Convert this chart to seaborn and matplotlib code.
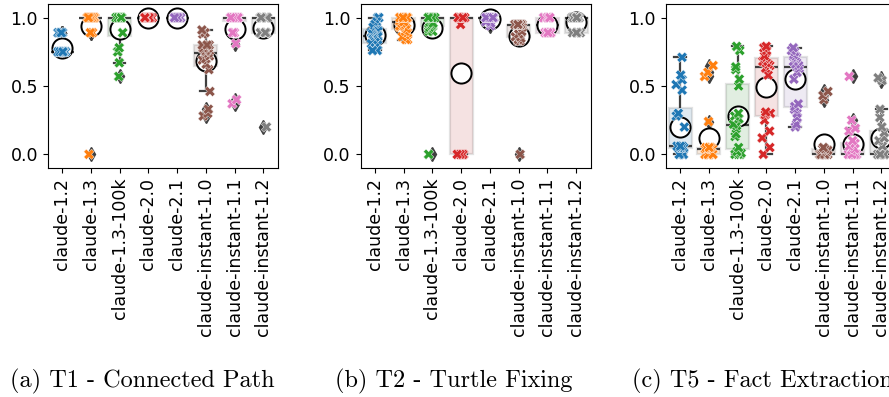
import numpy as np
import pandas as pd
import matplotlib
matplotlib.use("Agg")
import matplotlib.pyplot as plt
import seaborn as sns

models = ["claude-1.2", "claude-1.3", "claude-1.3-100k", "claude-2.0",
          "claude-2.1", "claude-instant-1.0", "claude-instant-1.1", "claude-instant-1.2"]

captions = ["(a) T1 - Connected Path", "(b) T2 - Turtle Fixing", "(c) T5 - Fact Extraction"]

t1_scores = [
    [0.75, 0.75, 0.75, 0.75, 0.75, 0.75, 0.75, 0.75, 0.75, 0.75, 0.75, 0.75, 0.75, 0.75, 0.75, 0.75,
     0.89, 0.89, 0.89, 0.89],
    [0.0, 0.89, 0.89, 1.0, 1.0, 1.0, 1.0, 1.0, 1.0, 1.0, 1.0, 1.0, 1.0, 1.0, 1.0, 1.0, 1.0, 1.0, 1.0, 1.0],
    [0.57, 0.67, 0.75, 0.75, 0.78, 0.89, 1.0, 1.0, 1.0, 1.0, 1.0, 1.0, 1.0, 1.0, 1.0, 1.0, 1.0, 1.0, 1.0, 1.0],
    [1.0, 1.0, 1.0, 1.0, 1.0, 1.0, 1.0, 1.0, 1.0, 1.0, 1.0, 1.0, 1.0, 1.0, 1.0, 1.0, 1.0, 1.0, 1.0, 1.0],
    [1.0, 1.0, 1.0, 1.0, 1.0, 1.0, 1.0, 1.0, 1.0, 1.0, 1.0, 1.0, 1.0, 1.0, 1.0, 1.0, 1.0, 1.0, 1.0, 1.0],
    [0.28, 0.30, 0.33, 0.46, 0.62, 0.66, 0.69, 0.70, 0.72, 0.74, 0.75, 0.76, 0.77, 0.78, 0.80, 0.80, 0.80,
     0.88, 0.89, 0.91],
    [0.37, 0.40, 0.81, 0.89, 0.89, 1.0, 1.0, 1.0, 1.0, 1.0, 1.0, 1.0, 1.0, 1.0, 1.0, 1.0, 1.0, 1.0, 1.0, 1.0],
    [0.20, 0.89, 0.89, 0.89, 0.89, 0.89, 0.89, 1.0, 1.0, 1.0, 1.0, 1.0, 1.0, 1.0, 1.0, 1.0, 1.0, 1.0, 1.0, 1.0],
]

t2_scores = [
    [1.0, 1.0, 0.97, 0.95, 0.93, 0.91, 0.90, 0.89, 0.88, 0.87, 0.86, 0.85, 0.84, 0.83, 0.82, 0.81, 0.80,
     0.78, 0.76, 0.76],
    [0.84, 0.84, 0.86, 0.89, 0.90, 0.92, 0.93, 0.94, 0.95, 0.96, 0.97, 1.0, 1.0, 1.0, 1.0, 1.0, 1.0, 1.0,
     1.0, 1.0],
    [0.0, 0.90, 0.90, 0.92, 0.93, 0.94, 0.95, 0.96, 1.0, 1.0, 1.0, 1.0, 1.0, 1.0, 1.0, 1.0, 1.0, 1.0, 1.0, 1.0],
    [0.0, 0.0, 0.0, 0.0, 0.0, 0.0, 0.0, 0.0, 0.95, 1.0, 1.0, 1.0, 1.0, 1.0, 1.0, 1.0, 1.0, 1.0, 1.0, 1.0],
    [0.94, 0.96, 0.97, 1.0, 1.0, 1.0, 1.0, 1.0, 1.0, 1.0, 1.0, 1.0, 1.0, 1.0, 1.0, 1.0, 1.0, 1.0, 1.0, 1.0],
    [0.0, 0.83, 0.83, 0.84, 0.85, 0.86, 0.88, 0.90, 0.93, 0.95, 0.95, 0.95, 0.95, 0.95, 0.95, 0.95, 0.95,
     0.95, 0.95, 0.95],
    [0.89, 0.89, 0.89, 0.89, 0.89, 0.89, 0.89, 0.89, 0.89, 0.89, 1.0, 1.0, 1.0, 1.0, 1.0, 1.0, 1.0, 1.0,
     1.0, 1.0],
    [0.89, 0.89, 0.89, 0.89, 0.89, 0.89, 1.0, 1.0, 1.0, 1.0, 1.0, 1.0, 1.0, 1.0, 1.0, 1.0, 1.0, 1.0, 1.0, 1.0],
]

t5_scores = [
    [0.0, 0.0, 0.0, 0.0, 0.05, 0.05, 0.05, 0.05, 0.05, 0.06, 0.06, 0.06, 0.20, 0.28, 0.30, 0.47, 0.51,
     0.545, 0.58, 0.71],
    [0.0, 0.0, 0.0, 0.0, 0.0, 0.0, 0.0, 0.0, 0.04, 0.04, 0.04, 0.04, 0.05, 0.05, 0.05, 0.05, 0.24, 0.57,
     0.60, 0.65],
    [0.0, 0.0, 0.0, 0.01, 0.02, 0.05, 0.13, 0.15, 0.19, 0.21, 0.22, 0.26, 0.28, 0.30, 0.50, 0.55, 0.62,
     0.64, 0.76, 0.79],
    [0.0, 0.05, 0.12, 0.17, 0.25, 0.29, 0.30, 0.31, 0.58, 0.63, 0.65, 0.66, 0.67, 0.68, 0.70, 0.71, 0.72,
     0.76, 0.78, 0.79],
    [0.20, 0.22, 0.27, 0.30, 0.33, 0.35, 0.37, 0.55, 0.60, 0.63, 0.65, 0.66, 0.68, 0.70, 0.71, 0.72, 0.73,
     0.75, 0.76, 0.78],
    [0.0, 0.0, 0.0, 0.0, 0.0, 0.0, 0.0, 0.0, 0.0, 0.0, 0.0, 0.0, 0.02, 0.03, 0.04, 0.04, 0.05, 0.40, 0.43,
     0.46],
    [0.0, 0.0, 0.0, 0.0, 0.0, 0.0, 0.0, 0.0, 0.0, 0.0, 0.0, 0.03, 0.04, 0.06, 0.08, 0.10, 0.17, 0.19, 0.25,
     0.57],
    [0.0, 0.0, 0.0, 0.0, 0.0, 0.0, 0.0, 0.0, 0.0, 0.0, 0.0, 0.06, 0.10, 0.12, 0.16, 0.20, 0.27, 0.33, 0.54,
     0.56],
]

panels = [t1_scores, t2_scores, t5_scores]

W, H = 889, 397
fig = plt.figure(figsize=(W / 100, H / 100), dpi=100)
ax_lefts = [47.7, 360.5, 665.7]
ax_w, ax_bottom, ax_h = 230.0, 168.0, 164.0
caption_centers = [142.5, 453.5, 762.0]

palette = sns.color_palette("tab10", len(models))
line_gray = "#3f3f3f"
np.random.seed(3)

for scores, left, cap, cx in zip(panels, ax_lefts, captions, caption_centers):
    rows = []
    for m, vals in zip(models, scores):
        for v in vals:
            rows.append((m, v))
    df = pd.DataFrame(rows, columns=["model", "score"])
    ax = fig.add_axes([left / W, (H - ax_bottom) / H, ax_w / W, ax_h / H])
    sns.boxplot(data=df, x="model", y="score", hue="model", order=models, hue_order=models,
                palette=palette, legend=False, ax=ax, width=0.8, linewidth=1.6,
                linecolor=line_gray, fliersize=7,
                boxprops={"alpha": 0.15},
                flierprops={"marker": "d", "markerfacecolor": line_gray,
                            "markeredgecolor": line_gray},
                showmeans=True,
                meanprops={"marker": "o", "markerfacecolor": "white",
                           "markeredgecolor": "black", "markersize": 14.5,
                           "markeredgewidth": 1.4})
    # make sure outliers are drawn as filled dark diamonds
    for ln in ax.lines:
        if ln.get_marker() not in ("None", None, "", "o") and ln.get_linestyle() in ("None", ""):
            ln.set_marker("d")
            ln.set_markerfacecolor(line_gray)
            ln.set_markeredgecolor(line_gray)
            ln.set_markersize(7)
    sns.stripplot(data=df, x="model", y="score", hue="model", order=models, hue_order=models,
                  palette=palette, legend=False, ax=ax, marker="X", size=7.5, jitter=0.15,
                  edgecolor="white", linewidth=0.3, zorder=3)
    ax.set_xlim(-0.5, len(models) - 0.5)
    ax.set_ylim(-0.1, 1.1)
    ax.set_yticks([0.0, 0.5, 1.0])
    ax.set_yticklabels(["0.0", "0.5", "1.0"], fontsize=12.5)
    ax.set_xticks(range(len(models)))
    ax.set_xticklabels(models, rotation=90, fontsize=12.5)
    ax.set_xlabel("")
    ax.set_ylabel("")
    fig.text(cx / W, (H - 381) / H, cap, family="cmr10", fontsize=17.5,
             ha="center", va="center")

fig.savefig("out.png", dpi=100)
